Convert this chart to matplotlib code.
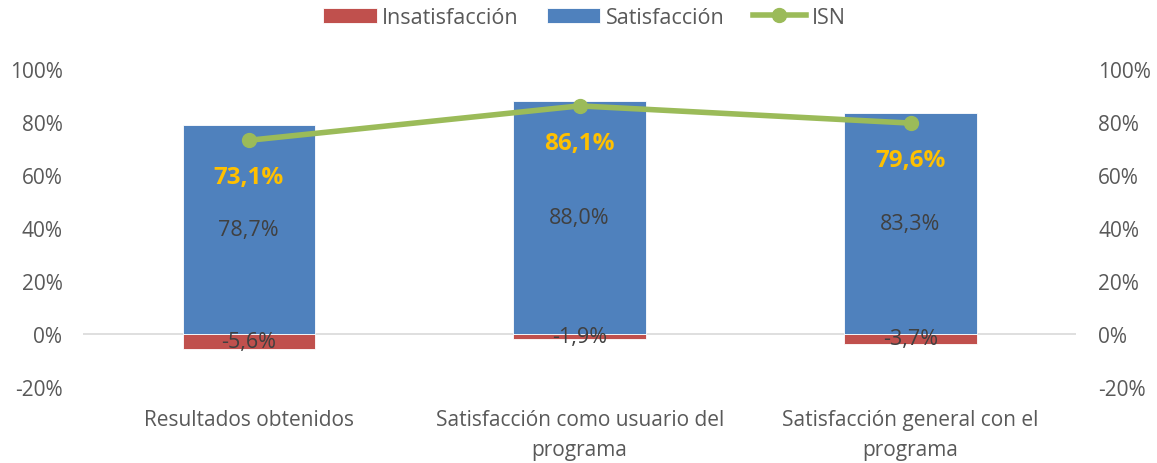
import matplotlib.pyplot as plt
from matplotlib.ticker import FuncFormatter, MultipleLocator

# data
categorias = ["Resultados obtenidos",
              "Satisfacción como usuario del\nprograma",
              "Satisfacción general con el\nprograma"]
insatisfaccion = [-5.6, -1.9, -3.7]
satisfaccion = [78.7, 88.0, 83.3]
isn = [73.1, 86.1, 79.6]

rojo, azul, verde = "#C0504D", "#4F81BD", "#9BBB59"
gris = "#595959"

plt.rcParams['font.family'] = ['Open Sans', 'DejaVu Sans']

fig = plt.figure(figsize=(11.57, 4.64), dpi=100)
ax = fig.add_axes([0.072, 0.164, 0.858, 0.685])
x = list(range(len(categorias)))

b1 = ax.bar(x, insatisfaccion, width=0.4, color=rojo, label="Insatisfacción",
            edgecolor="white", linewidth=0.6)
b2 = ax.bar(x, satisfaccion, width=0.4, color=azul, label="Satisfacción",
            edgecolor="white", linewidth=0.6)
ln, = ax.plot(x, isn, color=verde, lw=4, marker="o", markersize=10, label="ISN", zorder=5)

fmt = lambda v: ("%.1f%%" % v).replace(".", ",")
for xi, v in zip(x, satisfaccion):
    ax.text(xi, v / 2, fmt(v), ha="center", va="center", fontsize=15.5, color="#404040")
for xi, v in zip(x, insatisfaccion):
    ax.text(xi, v / 2, fmt(v), ha="center", va="center", fontsize=15.5, color="#404040")
for xi, v in zip(x, isn):
    ax.annotate(fmt(v), (xi, v), xytext=(0, -37), textcoords="offset pixels",
                ha="center", va="center", fontsize=17.5, fontweight="bold", color="#FFC000")

ax.set_ylim(-20, 100)
ax.set_xlim(-0.5, 2.5)
ax.yaxis.set_major_locator(MultipleLocator(20))
pct = FuncFormatter(lambda v, p: "%d%%" % round(v))
ax.yaxis.set_major_formatter(pct)
ax.axhline(0, color="#D9D9D9", lw=1.2, zorder=0)
ax.set_xticks(x)
ax.set_xticklabels(categorias, fontsize=15, color=gris, linespacing=1.55)
ax.tick_params(axis="both", length=0, labelsize=15, labelcolor=gris)
ax.tick_params(axis="x", pad=16)
ax.tick_params(axis="y", pad=15)
for s in ax.spines.values():
    s.set_visible(False)

ax2 = ax.twinx()
ax2.set_ylim(-20, 100)
ax2.yaxis.set_major_locator(MultipleLocator(20))
ax2.yaxis.set_major_formatter(pct)
ax2.tick_params(axis="y", length=0, labelsize=15, labelcolor=gris, pad=16)
for s in ax2.spines.values():
    s.set_visible(False)

fig.legend(handles=[b1, b2, ln], loc="upper center", bbox_to_anchor=(0.505, 1.025), ncol=3,
           frameon=False, fontsize=15.5, labelcolor=gris, handlelength=2.5, handletextpad=0.25,
           columnspacing=1.3)

plt.savefig("out.png", dpi=100)
